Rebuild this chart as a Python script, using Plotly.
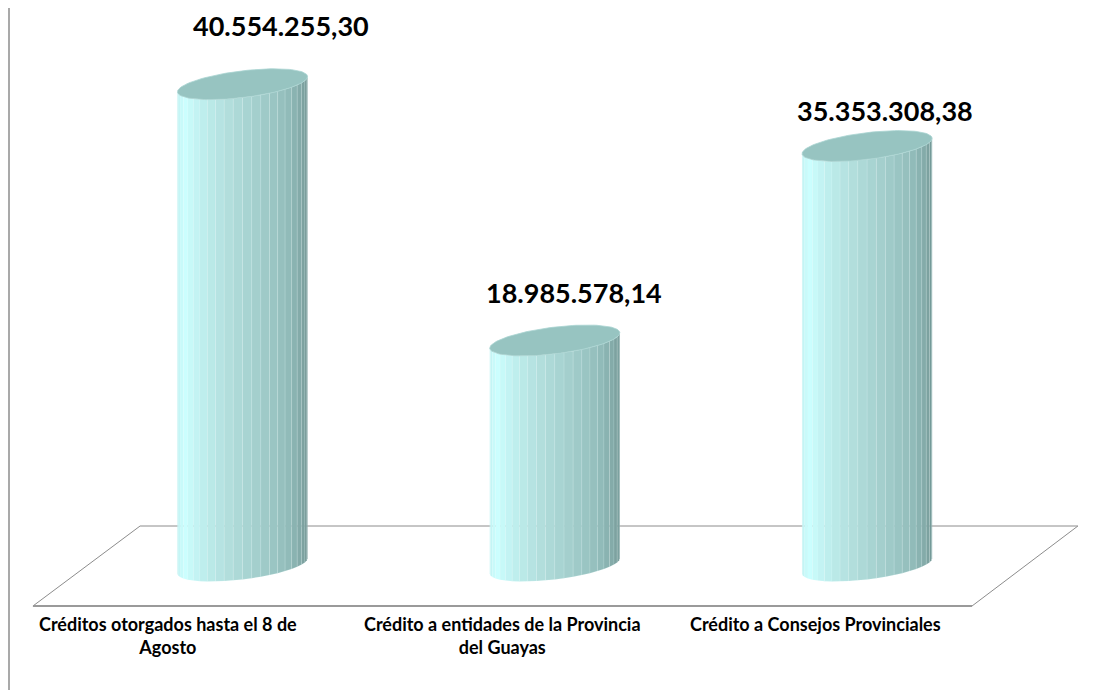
import numpy as np
import plotly.graph_objects as go

# ---------------- data ----------------
categories = [
    "Créditos otorgados hasta el 8 de<br>Agosto",
    "Crédito a entidades de la Provincia<br>del Guayas",
    "Crédito a Consejos Provinciales",
]
values = [40554255.30, 18985578.14, 35353308.38]
value_labels = ["40.554.255,30", "18.985.578,14", "35.353.308,38"]

# ---------------- layout constants (page pixels) ----------------
PAGE_W, PAGE_H = 1114, 690
OFF = 8                      # default body margin of the html page
W, H = PAGE_W - OFF, PAGE_H - OFF
PX_X = 312.3                 # pixels per category step
PX_Y = 11.88e-6              # pixels per value unit
X0_PX = 242.5 - OFF          # pixel position of first category
BASE_PX = 566 - OFF          # pixel position of value 0
x_range = [(0 - X0_PX) / PX_X, (W - X0_PX) / PX_X]
y_range = [(BASE_PX - H) / PX_Y, BASE_PX / PX_Y]

CYL_A = 65.5                 # half width of cylinder (px)
CYL_B = 13.3                 # ellipse minor half-axis (px)
THETA = np.deg2rad(-7.0)
N_STRIPES = 22

# floor
FLOOR_DEPTH = 40
FLOOR_FRONT = (-0.671, 2.336)
FLOOR_BACK = (-0.328, 2.675)

# label placement (px)
value_label_offsets = [(38, 59), (19, 48), (18, 36)]
cat_label_nudge = [-21, 0, 0]
CAT_LABEL_TOP_PX = 611 - OFF


def px_to_dx(dx):
    return dx / PX_X


def px_to_dy(dy):
    return -dy / PX_Y


def ell_offset(t):
    ex = CYL_A * np.cos(t) * np.cos(THETA) - CYL_B * np.sin(t) * np.sin(THETA)
    ey = CYL_A * np.cos(t) * np.sin(THETA) + CYL_B * np.sin(t) * np.cos(THETA)
    return px_to_dx(ex), px_to_dy(ey)


stops = [
    (0.00, (188, 236, 236)),
    (0.15, (204, 255, 255)),
    (0.45, (176, 220, 218)),
    (0.75, (145, 187, 185)),
    (1.00, (108, 142, 140)),
]


def grad(f):
    for (f0, c0), (f1, c1) in zip(stops[:-1], stops[1:]):
        if f <= f1:
            u = (f - f0) / (f1 - f0)
            c = [round(c0[k] + u * (c1[k] - c0[k])) for k in range(3)]
            return "rgb(%d,%d,%d)" % tuple(c)
    return "rgb(%d,%d,%d)" % stops[-1][1]


fig = go.Figure()

# floor
fx = [FLOOR_FRONT[0], FLOOR_BACK[0], FLOOR_BACK[1], FLOOR_FRONT[1]]
fy = [px_to_dy(FLOOR_DEPTH), px_to_dy(-FLOOR_DEPTH), px_to_dy(-FLOOR_DEPTH), px_to_dy(FLOOR_DEPTH)]
fig.add_trace(go.Scatter(x=fx, y=fy, mode="lines", line=dict(color="#8c8c8c", width=1),
                         hoverinfo="skip", showlegend=False))
fig.add_trace(go.Scatter(x=[FLOOR_FRONT[0], FLOOR_FRONT[1]], y=[fy[0], fy[3]], mode="lines",
                         line=dict(color="#9a9a9a", width=2.2), hoverinfo="skip", showlegend=False))

t_r = np.arctan2(-CYL_B * np.sin(THETA), CYL_A * np.cos(THETA))
ts = np.linspace(t_r + np.pi, t_r, N_STRIPES + 1)

for i, v in enumerate(values):
    # body stripes
    for j in range(N_STRIPES):
        tt = np.linspace(ts[j], ts[j + 1], 6)
        ox, oy = ell_offset(tt)
        xs = list(i + ox) + list(i + ox[::-1])
        ys = list(0 + oy) + list(v + oy[::-1])
        xs.append(xs[0])
        ys.append(ys[0])
        col = grad((j + 0.5) / N_STRIPES)
        fig.add_trace(go.Scatter(x=xs, y=ys, mode="lines", fill="toself", fillcolor=col,
                                 line=dict(color="rgba(230,255,255,0.25)", width=0.5),
                                 hoverinfo="skip", showlegend=False))
    # top ellipse
    tt = np.linspace(0, 2 * np.pi, 120)
    ox, oy = ell_offset(tt)
    fig.add_trace(go.Scatter(x=i + ox, y=v + oy, mode="lines", fill="toself",
                             fillcolor="rgb(151,196,193)",
                             line=dict(color="rgb(170,212,210)", width=0.8),
                             hoverinfo="skip", showlegend=False))
    # value label
    dxp, dyp = value_label_offsets[i]
    fig.add_annotation(x=i, y=v, text="<b>%s</b>" % value_labels[i], showarrow=False,
                       xshift=dxp, yshift=dyp, borderpad=0,
                       font=dict(family="Lato", size=27, color="#000"))

# category labels along the front edge of the floor
front_len = FLOOR_FRONT[1] - FLOOR_FRONT[0]
for i, c in enumerate(categories):
    cx = FLOOR_FRONT[0] + front_len * (i + 0.5) / len(categories)
    fig.add_annotation(x=cx, y=(BASE_PX - CAT_LABEL_TOP_PX) / PX_Y, text="<b>%s</b>" % c,
                       showarrow=False, xshift=cat_label_nudge[i], yanchor="top",
                       font=dict(family="Lato", size=18, color="#000"))

fig.add_shape(type="line", xref="paper", yref="paper", x0=1 / W, x1=1 / W, y0=0, y1=1,
              line=dict(color="#8c8c8c", width=1.5))

fig.update_layout(
    width=W, height=H, margin=dict(l=0, r=0, t=0, b=0),
    paper_bgcolor="white", plot_bgcolor="white",
    xaxis=dict(range=x_range, visible=False, fixedrange=True),
    yaxis=dict(range=y_range, visible=False, fixedrange=True),
    showlegend=False,
)

fig.write_html("out.html")
